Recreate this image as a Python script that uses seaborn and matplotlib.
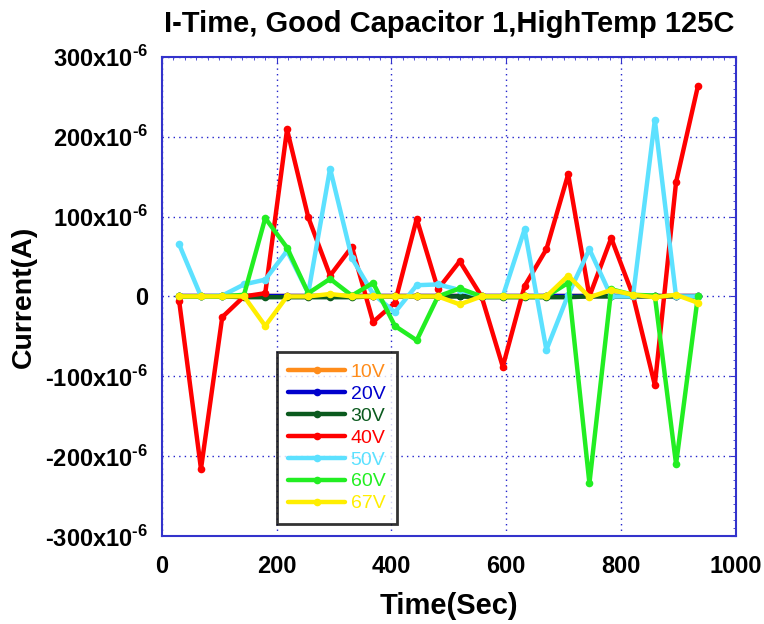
import numpy as np
import pandas as pd
import seaborn as sns
import matplotlib.pyplot as plt
from matplotlib.ticker import MultipleLocator, FuncFormatter

# time stamps (sec)
time_sec = [30, 68, 105, 143, 180, 218, 255, 293, 331, 368, 406, 444, 481,
            519, 557, 594, 632, 670, 708, 745, 783, 821, 859, 896, 934]

# current in micro-amps
i_10v = [0] * 25
i_20v = [0] * 25
i_30v = [0, 0, 0, -1, -1, -1, -1, -1, -1, 0, 0, 0, 0,
         0, -1, -1, -1, -1, -1, 0, 0, 0, 0, 0, 0]
i_40v = [-6, -216, -26, 0, 4, 209, 99, 26, 62, -32, -8, 97, 9,
         44, 0, -88, 13, 59, 153, 0, 73, 1, -111, 143, 263]
i_50v = [65, 0, 1, 15, 21, 57, 4, 160, 48, 3, -20, 14, 15,
         8, 0, 0, 84, -67, 2, 59, 0, 0, 221, 0, 0]
i_60v = [0, 0, 0, 2, 98, 61, 4, 22, 1, 17, -37, -55, 0,
         10, 0, 0, 0, 0, 17, -234, 9, 2, 1, -210, 0]
i_67v = [0, 0, 0, 0, -37, 0, 0, 3, 0, 0, 0, 0, 0,
         -10, 0, 0, 0, 0, 26, -1, 8, 2, -1, 2, -8]

labels = ["10V", "20V", "30V", "40V", "50V", "60V", "67V"]
series = [i_10v, i_20v, i_30v, i_40v, i_50v, i_60v, i_67v]
colors = ["#FF8C1A", "#0000CC", "#0B5A1E", "#FF0000", "#5CE1FF", "#22EE22", "#FFEE00"]

rows = []
for lab, vals in zip(labels, series):
    for t, v in zip(time_sec, vals):
        rows.append({"Time": t, "Current": v * 1e-6, "Voltage": lab})
df = pd.DataFrame(rows)

sns.set_style("white")
plt.rcParams['font.family'] = ['Liberation Sans', 'DejaVu Sans']
plt.rcParams['text.color'] = 'black'
plt.rcParams['axes.labelcolor'] = 'black'

fig = plt.figure(figsize=(7.64, 6.24), dpi=100)
ax = fig.add_axes([0.212, 0.141, 0.751, 0.768])

for lab, col in zip(labels, colors):
    sns.lineplot(data=df[df["Voltage"] == lab], x="Time", y="Current", ax=ax,
                 color=col, linewidth=3.2, marker="o", markersize=5.5,
                 markeredgewidth=0, label=lab)

ax.set_xlim(0, 1000)
ax.set_ylim(-300e-6, 300e-6)
ax.xaxis.set_major_locator(MultipleLocator(200))
ax.yaxis.set_major_locator(MultipleLocator(100e-6))
ax.xaxis.set_minor_locator(MultipleLocator(20))
ax.yaxis.set_minor_locator(MultipleLocator(10e-6))


def yfmt(v, pos):
    n = int(round(v * 1e6))
    if n == 0:
        return "0"
    return "%dx10$^{\\mathregular{\u2010}\\mathregular{6}}$" % n


ax.yaxis.set_major_formatter(FuncFormatter(yfmt))

ax.grid(True, which="major", color="#2222CC", linestyle=(0, (1, 3)), linewidth=1.0)
for s in ax.spines.values():
    s.set_color("#3333CC")
    s.set_linewidth(1.5)
ax.tick_params(which="both", direction="in", top=True, right=True, colors="#3333CC",
               labelcolor="black")
ax.tick_params(which="major", length=4)
ax.tick_params(which="minor", length=2)
ax.tick_params(axis="x", which="major", pad=14)
ax.tick_params(axis="y", which="major", pad=10)
for t in ax.get_xticklabels() + ax.get_yticklabels():
    t.set_fontweight("bold")
    t.set_fontsize(17)

ax.set_xlabel("Time(Sec)", fontsize=21, fontweight="bold", labelpad=10)
ax.set_ylabel("Current(A)", fontsize=20.5, fontweight="bold", labelpad=6)
ax.set_title("I-Time, Good Capacitor 1,HighTemp 125C", fontsize=21, fontweight="bold", pad=18)

leg = ax.legend(loc="lower left", bbox_to_anchor=(0.2, 0.025), borderaxespad=0,
                fontsize=14, frameon=True, fancybox=False, handlelength=2.9,
                labelspacing=0.22, borderpad=0.6, handletextpad=0.3)
leg.get_frame().set_edgecolor("black")
leg.get_frame().set_linewidth(2)
for txt, col in zip(leg.get_texts(), colors):
    txt.set_color(col)

fig.savefig("out.png", dpi=100)
